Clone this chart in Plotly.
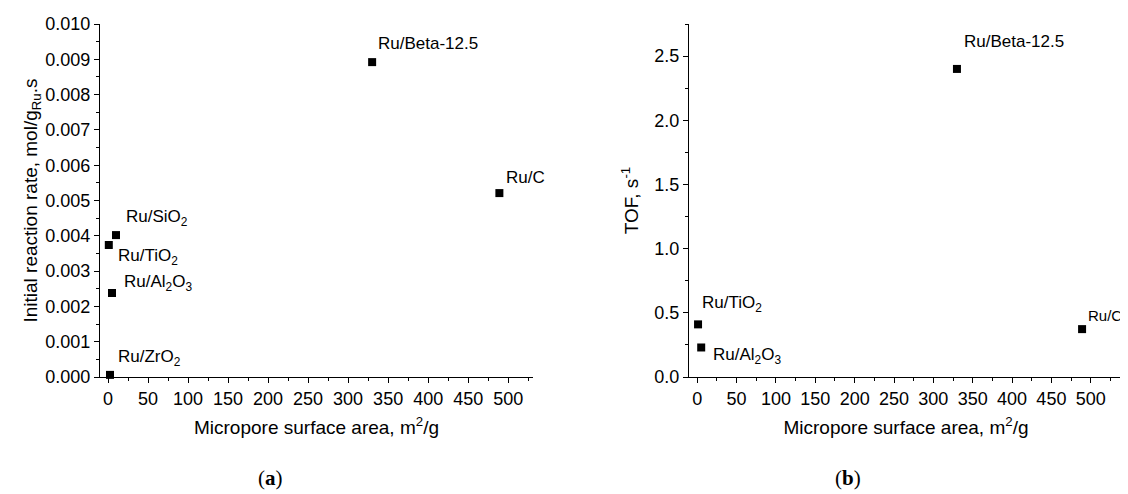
import plotly.graph_objects as go

# Panel (a): initial reaction rate
cat_a = ["Ru/Beta-12.5", "Ru/C", "Ru/SiO<sub>2</sub>", "Ru/TiO<sub>2</sub>", "Ru/Al<sub>2</sub>O<sub>3</sub>", "Ru/ZrO<sub>2</sub>"]
area_a = [330, 489, 10, 1, 5, 2.5]
rate_a = [0.00892, 0.00521, 0.00402, 0.00374, 0.00238, 0.00006]

# Panel (b): TOF
cat_b = ["Ru/Beta-12.5", "Ru/C", "Ru/TiO<sub>2</sub>", "Ru/Al<sub>2</sub>O<sub>3</sub>"]
area_b = [330, 489, 1, 5]
tof_b = [2.40, 0.373, 0.41, 0.23]

# label offsets (pixels) relative to each point, and label font sizes
off_a = [(4, 19), (5, 16), (8, 17), (7, -12), (10, 10), (6, 17)]
off_b = [(5, 27), (4, 14), (2, 20), (10, -9)]
size_b = [17, 15, 17, 17]

FONT = "Liberation Sans, Arial, sans-serif"
SERIF = "Liberation Serif, DejaVu Serif, serif"
VW, VH = 1128, 494      # browser window
OFF = 8                 # default page body margin
W, H = VW - OFF, VH - OFF


def px(xs):
    return (xs - OFF) / W


def py(ys):
    return 1 - (ys - OFF) / H


fig = go.Figure()
fig.add_trace(go.Scatter(x=area_a, y=rate_a, mode="markers",
                         marker=dict(symbol="square", size=8, color="black"),
                         xaxis="x", yaxis="y", showlegend=False, cliponaxis=False))
fig.add_trace(go.Scatter(x=area_b, y=tof_b, mode="markers",
                         marker=dict(symbol="square", size=8, color="black"),
                         xaxis="x2", yaxis="y2", showlegend=False, cliponaxis=False))

annotations = []
for name, xv, yv, (dx, dy) in zip(cat_a, area_a, rate_a, off_a):
    annotations.append(dict(x=xv, y=yv, xref="x", yref="y", text=name, showarrow=False,
                            xanchor="left", yanchor="middle", xshift=dx, yshift=dy,
                            font=dict(family=FONT, size=17, color="black")))
for name, xv, yv, (dx, dy), fs in zip(cat_b, area_b, tof_b, off_b, size_b):
    annotations.append(dict(x=xv, y=yv, xref="x2", yref="y2", text=name, showarrow=False,
                            xanchor="left", yanchor="middle", xshift=dx, yshift=dy,
                            font=dict(family=FONT, size=fs, color="black")))

annotations.append(dict(x=px(270), y=py(478), xref="paper", yref="paper",
                        text="(<b>a</b>)", showarrow=False, xanchor="center", yanchor="middle",
                        font=dict(family=SERIF, size=21, color="black")))
annotations.append(dict(x=px(848), y=py(478), xref="paper", yref="paper",
                        text="(<b>b</b>)", showarrow=False, xanchor="center", yanchor="middle",
                        font=dict(family=SERIF, size=21, color="black")))

x_common = dict(tick0=0, dtick=50, ticks="outside", ticklen=5,
                tickwidth=1, tickcolor="black", showline=True, linecolor="black", linewidth=1.3,
                showgrid=False, zeroline=False, automargin=False,
                minor=dict(dtick=25, tick0=0, ticks="outside", ticklen=3, tickcolor="black", showgrid=False),
                tickfont=dict(family=FONT, size=18, color="black"),
                title=dict(text="Micropore surface area, m<sup>2</sup>/g",
                           font=dict(family=FONT, size=19, color="black"), standoff=12))
y_common = dict(ticks="outside", ticklen=5, tickwidth=1, tickcolor="black",
                showline=True, linecolor="black", linewidth=1.3, showgrid=False, zeroline=False,
                automargin=False,
                tickfont=dict(family=FONT, size=18, color="black"))

fig.update_layout(
    width=W, height=H,
    margin=dict(l=0, r=0, t=0, b=0, autoexpand=False),
    paper_bgcolor="white", plot_bgcolor="white",
    xaxis=dict(domain=[px(100), px(533)], anchor="y", range=[-10, 531], **x_common),
    yaxis=dict(domain=[py(377), py(24)], anchor="x", range=[0, 0.010],
               dtick=0.001, tick0=0, tickformat=".3f",
               minor=dict(dtick=0.0005, tick0=0, ticks="outside", ticklen=3, tickcolor="black", showgrid=False),
               title=dict(text="Initial reaction rate, mol/g<sub>Ru</sub>.s",
                          font=dict(family=FONT, size=19, color="black"), standoff=2),
               **y_common),
    xaxis2=dict(domain=[px(689), px(1123)], anchor="y2", range=[-10.5, 541], **x_common),
    yaxis2=dict(domain=[py(377), py(24)], anchor="x2", range=[0, 2.75],
                dtick=0.5, tick0=0, tickformat=".1f",
                minor=dict(dtick=0.25, tick0=0, ticks="outside", ticklen=3, tickcolor="black", showgrid=False),
                title=dict(text="TOF, s<sup>-1</sup>",
                           font=dict(family=FONT, size=19, color="black"), standoff=10),
                **y_common),
    annotations=annotations,
)

fig.write_html("out.html", post_script="document.body.style.overflow='hidden';")
